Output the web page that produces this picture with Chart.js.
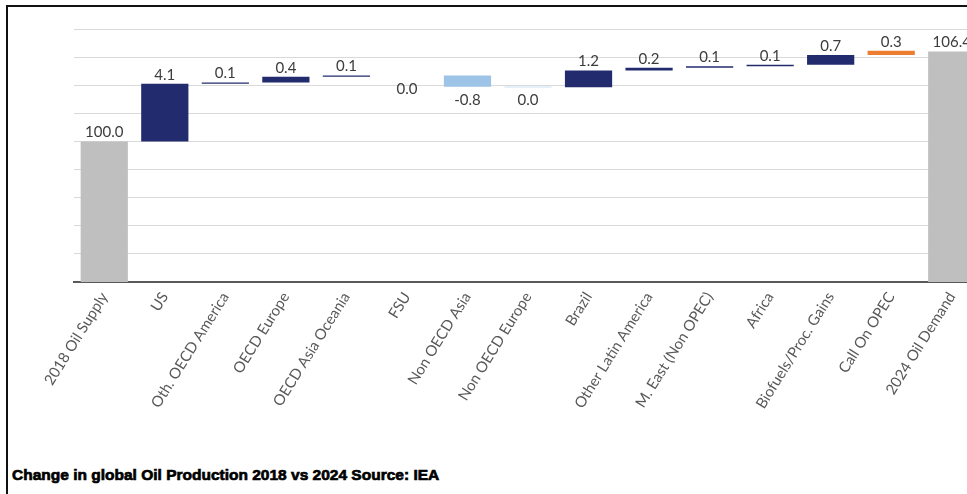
<!DOCTYPE html>
<html>
<head>
<meta charset="utf-8">
<script src="https://cdn.jsdelivr.net/npm/chart.js@4.4.1/dist/chart.umd.min.js"></script>
<style>
html, body { margin: 0; padding: 0; background: #fff; overflow: hidden; width: 967px; height: 494px; }
#frame { position: absolute; left: 6px; top: 5px; width: 1000px; height: 500px; border-left: 2px solid #111; border-top: 2px solid #111; }
#wrap { position: absolute; left: 0; top: 0; width: 1000px; height: 440px; }
#caption { position: absolute; left: 12px; top: 466px; font: bold 15.5px "Liberation Sans", Arial, sans-serif; color: #000; white-space: nowrap; -webkit-text-stroke: 0.7px #000; }
</style>
</head>
<body>
<div id="frame"></div>
<div id="wrap"><canvas id="chart" width="1000" height="440"></canvas></div>
<div id="caption">Change in global Oil Production 2018 vs 2024 Source: IEA</div>
<script>
var categories = ['2018 Oil Supply', 'US', 'Oth. OECD America', 'OECD Europe', 'OECD Asia Oceania', 'FSU',
    'Non OECD Asia', 'Non OECD Europe', 'Brazil', 'Other Latin America', 'M. East (Non OPEC)', 'Africa',
    'Biofuels/Proc. Gains', 'Call On OPEC', '2024 Oil Demand'];
var supply2018 = 100.0;
var demand2024 = 106.4;
// changes for US ... Call On OPEC (FSU and Non OECD Europe are tiny drops shown as 0.0)
var changes = [4.1, 0.1, 0.4, 0.1, -0.01, -0.8, -0.04, 1.2, 0.2, 0.1, 0.1, 0.7, 0.3];
var yMin = 90;
var yMax = 108;
var yStep = 2;

// waterfall: floating bars from the running level
var bars = [supply2018];
var shown = [supply2018];
var level = supply2018;
for (i = 0; i < changes.length; i++) {
    bars.push([level, level + changes[i]]);
    shown.push(changes[i]);
    level = level + changes[i];
}
bars.push(demand2024);
shown.push(demand2024);

var colors = bars.map(function (b, i) {
    if (i == 0 || i == bars.length - 1) return '#bfbfbf';
    if (categories[i] == 'Call On OPEC') return '#ed7d31';
    return changes[i - 1] < 0 ? '#9dc3e6' : '#222b6d';
});

var valueLabels = {
    id: 'valueLabels',
    afterDatasetsDraw: function (chart) {
        var ctx = chart.ctx;
        var meta = chart.getDatasetMeta(0);
        ctx.save();
        ctx.font = '15px Lato';
        ctx.fillStyle = '#3c3c3c';
        ctx.textAlign = 'center';
        ctx.textBaseline = 'alphabetic';
        meta.data.forEach(function (bar, i) {
            var v = shown[i];
            var txt = v.toFixed(1);
            if (txt == '-0.0') txt = '0.0';
            if (v < 0) {
                ctx.fillText(txt, bar.x, Math.max(bar.y, bar.base) + 18);
            } else {
                ctx.fillText(txt, bar.x, Math.min(bar.y, bar.base) - 4);
            }
        });
        ctx.restore();
    }
};

var ctx = document.getElementById('chart').getContext('2d');
new Chart(ctx, {
    type: 'bar',
    data: {
        labels: categories,
        datasets: [{
            data: bars,
            backgroundColor: colors,
            borderWidth: 0,
            barPercentage: 0.78,
            categoryPercentage: 1.0
        }]
    },
    options: {
        responsive: false,
        animation: false,
        layout: { padding: { left: 74, right: 18, top: 29, bottom: 8 } },
        plugins: {
            legend: { display: false },
            tooltip: { enabled: false }
        },
        scales: {
            x: {
                grid: { display: false, drawTicks: false },
                border: { display: true, color: '#595959', width: 2 },
                ticks: {
                    autoSkip: false,
                    minRotation: 58,
                    maxRotation: 58,
                    padding: 7,
                    color: '#595959',
                    font: { family: 'Lato', size: 15 }
                },
                afterFit: function (scale) { scale.height = 150; }
            },
            y: {
                min: yMin,
                max: yMax,
                ticks: { display: false, stepSize: yStep },
                grid: { color: '#d9d9d9', drawTicks: false, lineWidth: 1 },
                border: { display: false }
            }
        }
    },
    plugins: [valueLabels]
});
</script>
</body>
</html>
